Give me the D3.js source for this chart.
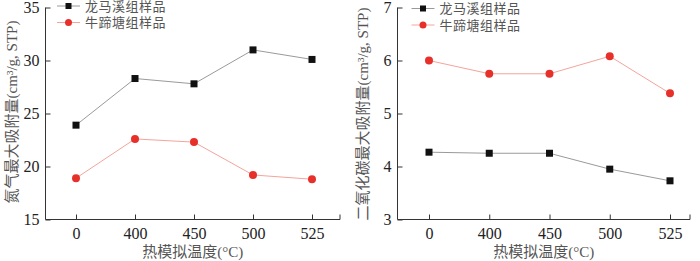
<!DOCTYPE html>
<html>
<head>
<meta charset="utf-8">
<script src="https://cdn.jsdelivr.net/npm/d3@7"></script>
<style>
  body { margin: 0; background: #fff; }
  svg text { font-family: "Liberation Serif", "Noto Sans CJK SC", serif; }
</style>
</head>
<body>
<div id="chart"></div>
<script>
// categories and series
var temps = ["0", "400", "450", "500", "525"];
var seriesNames = ["龙马溪组样品", "牛蹄塘组样品"];

var n2Longmaxi = [23.9, 28.3, 27.8, 31.0, 30.1];
var n2Niutitang = [18.9, 22.6, 22.3, 19.2, 18.8];
var co2Longmaxi = [4.27, 4.25, 4.25, 3.95, 3.73];
var co2Niutitang = [6.0, 5.75, 5.75, 6.08, 5.38];

var n2Ticks = [15, 20, 25, 30, 35];
var co2Ticks = [3, 4, 5, 6, 7];

var xTitle = "热模拟温度(°C)";
var n2Title = "氮气最大吸附量(cm³/g, STP)";
var co2Title = "二氧化碳最大吸附量(cm³/g, STP)";

var w = 700;
var h = 261;

var svg = d3
  .select("#chart")
  .append("svg")
  .attr("width", w)
  .attr("height", h);

function drawPanel(opts) {
  var g = svg.append("g");

  var xScale = d3
    .scalePoint()
    .domain(temps)
    .range([opts.left + opts.padL, opts.right - opts.padR]);

  var yScale = d3
    .scaleLinear()
    .domain([opts.ticks[0], opts.ticks[opts.ticks.length - 1]])
    .range([opts.bottom, opts.top]);

  // y axis (ticks pointing inward)
  var yAxis = g
    .append("g")
    .attr("transform", "translate(" + opts.left + ",0)")
    .call(
      d3.axisLeft(yScale)
        .tickValues(opts.ticks)
        .tickFormat(d3.format("d"))
        .tickSize(-5)
        .tickPadding(6)
    );
  yAxis.select(".domain").attr("stroke", "#333").attr("d",
    "M0," + opts.top + "H0V" + opts.bottom);
  yAxis.selectAll(".tick line").attr("stroke", "#333");
  yAxis.selectAll(".tick text")
    .attr("fill", "#222")
    .style("font-size", "16px");

  // x axis (ticks pointing inward)
  var xAxis = g
    .append("g")
    .attr("transform", "translate(0," + opts.bottom + ")")
    .call(d3.axisBottom(xScale).tickSize(-5).tickPadding(8));
  xAxis.select(".domain").attr("stroke", "#333").attr("d",
    "M" + opts.left + ",0H" + opts.right + "V-5");
  xAxis.selectAll(".tick line").attr("stroke", "#333");
  xAxis.selectAll(".tick text")
    .attr("fill", "#222")
    .style("font-size", "16px");

  // axis titles
  g.append("text")
    .attr("x", (opts.left + opts.right) / 2)
    .attr("y", 257)
    .attr("text-anchor", "middle")
    .attr("fill", "#555")
    .style("font-size", "15px")
    .text(xTitle);

  g.append("text")
    .attr("transform", "translate(" + opts.titleX + "," + opts.titleY + ") rotate(-90)")
    .attr("text-anchor", "middle")
    .attr("dy", "0.35em")
    .attr("fill", "#555")
    .style("font-size", "15px")
    .text(opts.yTitle);

  var line = d3
    .line()
    .x(function (d, i) { return xScale(temps[i]); })
    .y(function (d) { return yScale(d); });

  var series = [
    { values: opts.black, line: "#9a9a9a", fill: "#111", shape: "square" },
    { values: opts.red, line: "#f4a49c", fill: "#e8302a", shape: "circle" }
  ];

  series.forEach(function (s) {
    g.append("path")
      .datum(s.values)
      .attr("fill", "none")
      .attr("stroke", s.line)
      .attr("stroke-width", 1)
      .attr("d", line);

    if (s.shape === "square") {
      g.selectAll(null)
        .data(s.values)
        .enter()
        .append("rect")
        .attr("x", function (d, i) { return xScale(temps[i]) - 3.5; })
        .attr("y", function (d) { return yScale(d) - 3.5; })
        .attr("width", 7)
        .attr("height", 7)
        .attr("fill", s.fill);
    } else {
      g.selectAll(null)
        .data(s.values)
        .enter()
        .append("circle")
        .attr("cx", function (d, i) { return xScale(temps[i]); })
        .attr("cy", function (d) { return yScale(d); })
        .attr("r", 4)
        .attr("fill", s.fill);
    }
  });

  // legend
  series.forEach(function (s, i) {
    var ly = opts.legendY + i * 16.5;
    var lx = opts.legendX;
    g.append("line")
      .attr("x1", lx).attr("x2", lx + 23)
      .attr("y1", ly).attr("y2", ly)
      .attr("stroke", s.line);
    if (s.shape === "square") {
      g.append("rect")
        .attr("x", lx + 11.5 - 3).attr("y", ly - 3)
        .attr("width", 6).attr("height", 6)
        .attr("fill", s.fill);
    } else {
      g.append("circle")
        .attr("cx", lx + 11.5).attr("cy", ly).attr("r", 3.5)
        .attr("fill", s.fill);
    }
    g.append("text")
      .attr("x", lx + 28)
      .attr("y", ly)
      .attr("dy", "0.35em")
      .attr("fill", "#555")
      .style("font-size", "13px")
      .style("letter-spacing", "0.5px")
      .text(seriesNames[i]);
  });
}

drawPanel({
  left: 45.5, right: 340, top: 7.5, bottom: 219.5,
  padL: 30.5, padR: 28,
  ticks: n2Ticks, black: n2Longmaxi, red: n2Niutitang,
  yTitle: n2Title, titleX: 12, titleY: 112,
  legendX: 57, legendY: 6
});

drawPanel({
  left: 397.5, right: 690, top: 7.5, bottom: 219.5,
  padL: 31.5, padR: 20,
  ticks: co2Ticks, black: co2Longmaxi, red: co2Niutitang,
  yTitle: co2Title, titleX: 363, titleY: 114,
  legendX: 411.5, legendY: 8.5
});
</script>
</body>
</html>
